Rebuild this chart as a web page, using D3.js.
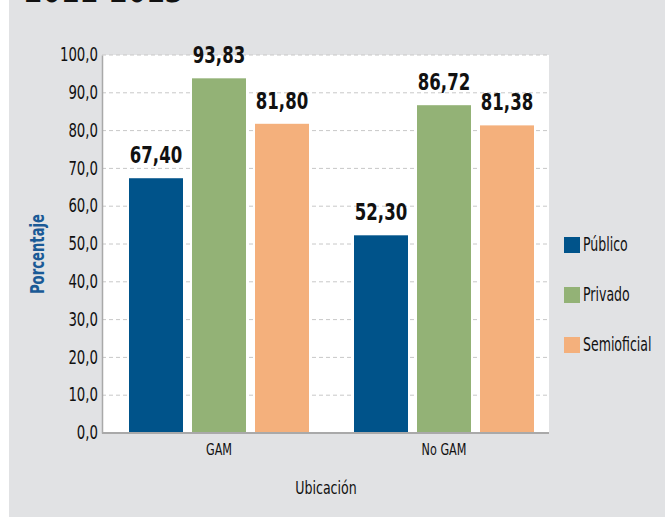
<!DOCTYPE html>
<html><head><meta charset="utf-8">
<script src="https://cdn.jsdelivr.net/npm/d3@7"></script>
<style>
html,body{margin:0;padding:0;background:#fff;}
svg{display:block;}
text{font-family:"DejaVu Sans",sans-serif;}
</style></head><body>
<script>
const categories = ["GAM", "No GAM"];
const seriesNames = ["Público", "Privado", "Semioficial"];
const publico = [67.40, 52.30];
const privado = [93.83, 86.72];
const semioficial = [81.80, 81.38];
const yTicks = [0,10,20,30,40,50,60,70,80,90,100];
const colors = ["#00538a", "#93b276", "#f4b07c"];

const seriesValues = [publico, privado, semioficial];
const W = 665, H = 517;
const svg = d3.select("body").append("svg").attr("width", W).attr("height", H);

function condense(sel, f) {
  sel.each(function() {
    const w = this.getComputedTextLength();
    d3.select(this).attr("textLength", w * f).attr("lengthAdjust", "spacingAndGlyphs");
  });
}
const CF = 0.7;

svg.append("rect").attr("x", 9).attr("y", 0).attr("width", W - 9).attr("height", H).attr("fill", "#e1e2e4");
svg.append("text").attr("x", 24).attr("y", 2).attr("font-size", 36).attr("font-weight", "bold")
  .attr("fill", "#111").text("2011-2013").call(condense, 0.74);

const plot = {l: 102, r: 549, t: 55, b: 433};
svg.append("rect").attr("x", plot.l).attr("y", plot.t).attr("width", plot.r - plot.l).attr("height", plot.b - plot.t).attr("fill", "#fff");

const y = d3.scaleLinear().domain([0, 100]).range([plot.b, plot.t]);
const x0 = d3.scaleBand().domain(categories).range([106.5, 556.5]);
const x1 = d3.scaleBand().domain(seriesNames).range([0, 180]).paddingInner(9/63);

// gridlines
svg.append("g").selectAll("line").data(yTicks.filter(d => d > 0)).join("line")
  .attr("x1", plot.l).attr("x2", plot.r).attr("y1", d => y(d)).attr("y2", d => y(d))
  .attr("stroke", "#c8c8c8").attr("stroke-width", 1).attr("stroke-dasharray", "4,3");

// y axis
const yAxis = d3.axisLeft(y).tickValues(yTicks).tickSize(0).tickPadding(4)
  .tickFormat(d => d3.format(".1f")(d).replace(".", ","));
const gy = svg.append("g").attr("transform", `translate(${plot.l},0)`).call(yAxis);
gy.select(".domain").attr("stroke", "#a9a9a9").attr("stroke-width", 1.5);
gy.selectAll("text").attr("font-size", 19).attr("font-family", "DejaVu Sans").attr("fill", "#111").attr("dy", "0.3em").call(condense, CF);

// bars
const groups = svg.append("g").selectAll("g").data(categories).join("g")
  .attr("transform", d => `translate(${x0(d) + x0.bandwidth()/2 - 90},0)`);
groups.each(function(cat, ci) {
  const g = d3.select(this);
  seriesNames.forEach((s, si) => {
    const v = seriesValues[si][ci];
    g.append("rect").attr("x", x1(s)).attr("y", y(v)).attr("width", x1.bandwidth())
      .attr("height", y(0) - y(v)).attr("fill", colors[si]);
    g.append("text").attr("x", x1(s) + x1.bandwidth()/2).attr("y", y(v) - 15)
      .attr("text-anchor", "middle").attr("font-size", 23).attr("font-weight", "bold")
      .attr("fill", "#111").text(d3.format(".2f")(v).replace(".", ",")).call(condense, 0.72);
  });
});

// x axis
const xAxis = d3.axisBottom(x0).tickSize(0).tickPadding(11);
const gx = svg.append("g").attr("transform", `translate(0,${plot.b})`).call(xAxis);
gx.select(".domain").remove();
svg.append("line").attr("x1", plot.l).attr("x2", plot.r).attr("y1", plot.b).attr("y2", plot.b)
  .attr("stroke", "#a9a9a9").attr("stroke-width", 2);
gx.selectAll("text").attr("font-size", 16).attr("font-family", "DejaVu Sans").attr("fill", "#111").call(condense, CF);

svg.append("text").attr("x", 326).attr("y", 494).attr("text-anchor", "middle")
  .attr("font-size", 18).attr("fill", "#111").text("Ubicación").call(condense, CF);

svg.append("text").attr("transform", "translate(44,254) rotate(-90)").attr("text-anchor", "middle")
  .attr("font-size", 20).attr("font-weight", "bold").attr("fill", "#1a5a96").text("Porcentaje").call(condense, 0.66);

// legend
const leg = svg.append("g").selectAll("g").data(seriesNames).join("g")
  .attr("transform", (d, i) => `translate(564,${237 + i * 50})`);
leg.append("rect").attr("width", 16).attr("height", 16).attr("fill", (d, i) => colors[i]);
leg.append("text").attr("x", 19).attr("y", 14).attr("font-size", 19).attr("fill", "#111").text(d => d).call(condense, 0.66);
</script>
</body></html>
